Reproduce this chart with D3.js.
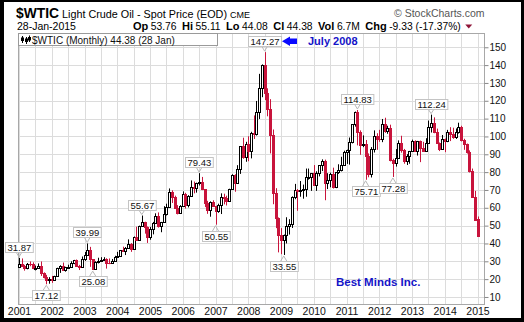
<!DOCTYPE html>
<html><head><meta charset="utf-8">
<script src="https://cdn.jsdelivr.net/npm/d3@7"></script>
<style>
html,body{margin:0;padding:0;background:#000;}
svg{display:block;}
text{font-family:"Liberation Sans",Arial,sans-serif;}
</style></head><body>
<svg id="chart" width="524" height="322"></svg>
<script>
// $WTIC monthly candles, Jan 2001 .. Jan 2015
const firstMonth = new Date(2001, 0, 1);

const opens = [
  26.80, 28.66, 27.39, 26.29, 28.46, 28.37, 26.25, 26.35, 27.20, 23.43, 21.18, 19.44,
  19.84, 19.48, 21.74, 26.31, 27.29, 25.31, 26.86, 27.02, 28.98, 30.45, 27.22, 26.89,
  31.20, 33.51, 36.60, 31.04, 25.80, 29.56, 30.19, 30.54, 31.57, 29.20, 29.11, 30.41,
  32.52, 33.05, 36.16, 35.76, 37.38, 39.88, 37.05, 43.80, 42.12, 49.64, 51.76, 49.13,
  43.45, 48.20, 51.75, 55.40, 49.72, 51.97, 56.50, 60.57, 68.94, 66.24, 59.76, 57.32,
  61.04, 67.92, 61.41, 66.63, 71.88, 71.29, 73.93, 74.40, 70.26, 62.91, 58.73, 63.13,
  61.05, 58.14, 61.79, 65.87, 65.71, 64.01, 70.68, 78.21, 74.04, 81.66, 94.53, 88.71,
  95.98, 91.75, 101.84, 101.58, 113.46, 127.35, 140.00, 124.08, 115.46, 100.64, 68.10, 54.43,
  44.60, 41.68, 44.76, 49.66, 51.12, 66.31, 69.89, 69.45, 69.96, 70.61, 77.00, 77.28,
  79.36, 72.89, 79.66, 83.76, 86.15, 73.97, 75.63, 78.95, 71.92, 79.97, 81.43, 84.11,
  91.38, 92.19, 96.97, 106.72, 113.93, 102.70, 95.42, 95.70, 88.81, 79.20, 93.19, 100.36,
  98.83, 98.48, 107.07, 103.02, 104.87, 86.53, 84.96, 88.06, 96.47, 92.19, 86.24, 88.91,
  91.82, 97.49, 92.05, 97.23, 93.46, 91.97, 96.56, 105.03, 107.65, 102.33, 96.38, 92.72,
  98.42, 97.49, 102.59, 101.58, 99.74, 102.71, 105.37, 98.17, 95.96, 91.16, 80.54, 66.15,
  53.76
];
const highs = [
  31.87, 31.60, 28.00, 29.05, 29.90, 29.40, 27.60, 28.80, 29.90, 23.80, 22.40, 21.10,
  21.80, 21.90, 26.40, 27.80, 29.30, 26.90, 28.10, 30.00, 30.80, 31.00, 28.00, 32.70,
  35.20, 39.99, 38.10, 31.20, 30.00, 32.00, 32.30, 32.30, 31.70, 31.60, 31.30, 33.10,
  35.30, 36.30, 38.20, 38.00, 42.30, 40.20, 43.90, 49.40, 50.00, 55.67, 52.20, 49.50,
  49.30, 52.10, 56.90, 57.40, 52.10, 60.90, 62.30, 70.85, 69.80, 66.80, 61.50, 61.50,
  69.20, 68.40, 67.10, 75.35, 74.70, 74.10, 79.43, 77.30, 70.40, 63.90, 63.60, 64.20,
  61.10, 62.30, 68.10, 67.90, 66.80, 70.70, 78.80, 78.80, 83.90, 94.60, 99.30, 97.00,
  100.10, 102.60, 111.80, 119.90, 135.10, 140.40, 147.27, 127.00, 120.90, 103.90, 71.00, 54.60,
  48.60, 45.00, 54.70, 53.60, 66.40, 73.40, 70.50, 75.00, 73.00, 82.00, 82.00, 79.50,
  83.95, 80.50, 83.85, 87.15, 87.00, 79.40, 79.70, 82.50, 80.00, 84.40, 88.60, 92.00,
  92.60, 99.40, 106.90, 113.95, 114.83, 103.40, 100.60, 98.00, 90.50, 94.00, 103.40, 101.80,
  103.70, 109.80, 110.50, 106.00, 106.60, 87.50, 92.90, 97.80, 100.40, 93.00, 90.10, 91.90,
  98.20, 97.80, 97.50, 97.70, 97.00, 99.00, 108.90, 112.24, 110.70, 104.40, 96.60, 100.80,
  98.80, 103.70, 105.20, 104.90, 104.50, 107.70, 106.00, 98.70, 96.00, 92.20, 82.00, 69.50,
  55.11
];
const lows = [
  26.60, 26.90, 24.75, 25.50, 27.20, 25.60, 24.90, 25.90, 21.80, 20.40, 17.12, 17.45,
  17.90, 19.30, 21.60, 23.50, 24.90, 24.20, 25.80, 26.50, 28.40, 26.80, 25.10, 26.50,
  30.20, 33.20, 26.90, 25.08, 25.60, 28.80, 29.80, 30.40, 25.90, 28.40, 28.60, 29.90,
  32.20, 32.40, 35.30, 33.50, 37.10, 35.30, 37.00, 41.90, 41.60, 49.30, 45.50, 40.30,
  42.10, 45.10, 51.20, 48.90, 46.30, 51.80, 55.70, 60.00, 62.70, 59.60, 56.30, 56.80,
  61.00, 59.60, 60.20, 66.50, 68.10, 68.50, 72.50, 69.90, 60.40, 56.60, 55.00, 60.80,
  50.55, 57.20, 56.50, 61.90, 61.30, 64.00, 70.20, 69.00, 73.80, 79.00, 87.50, 85.80,
  86.10, 87.70, 98.60, 100.50, 109.80, 122.00, 120.40, 111.30, 90.50, 62.00, 48.60, 35.00,
  33.98, 33.55, 40.00, 45.00, 48.70, 64.80, 58.30, 66.20, 65.10, 66.20, 75.80, 69.50,
  72.40, 69.50, 77.60, 80.60, 64.24, 70.50, 71.50, 70.80, 71.00, 79.00, 80.40, 83.90,
  84.60, 84.20, 96.10, 105.50, 95.00, 89.70, 94.00, 75.71, 77.10, 77.00, 91.00, 92.50,
  97.00, 96.80, 102.00, 101.50, 86.00, 77.28, 83.10, 87.70, 90.90, 84.70, 84.00, 84.70,
  91.80, 92.00, 89.30, 85.60, 91.30, 91.50, 96.00, 102.20, 101.80, 95.90, 91.80, 92.60,
  91.20, 96.80, 97.40, 98.70, 98.60, 101.60, 97.20, 92.50, 90.40, 79.80, 65.70, 52.70,
  44.08
];
const closes = [
  28.66, 27.39, 26.29, 28.46, 28.37, 26.25, 26.35, 27.20, 23.43, 21.18, 19.44, 19.84,
  19.48, 21.74, 26.31, 27.29, 25.31, 26.86, 27.02, 28.98, 30.45, 27.22, 26.89, 31.20,
  33.51, 36.60, 31.04, 25.80, 29.56, 30.19, 30.54, 31.57, 29.20, 29.11, 30.41, 32.52,
  33.05, 36.16, 35.76, 37.38, 39.88, 37.05, 43.80, 42.12, 49.64, 51.76, 49.13, 43.45,
  48.20, 51.75, 55.40, 49.72, 51.97, 56.50, 60.57, 68.94, 66.24, 59.76, 57.32, 61.04,
  67.92, 61.41, 66.63, 71.88, 71.29, 73.93, 74.40, 70.26, 62.91, 58.73, 63.13, 61.05,
  58.14, 61.79, 65.87, 65.71, 64.01, 70.68, 78.21, 74.04, 81.66, 94.53, 88.71, 95.98,
  91.75, 101.84, 101.58, 113.46, 127.35, 140.00, 124.08, 115.46, 100.64, 68.10, 54.43, 44.60,
  41.68, 44.76, 49.66, 51.12, 66.31, 69.89, 69.45, 69.96, 70.61, 77.00, 77.28, 79.36,
  72.89, 79.66, 83.76, 86.15, 73.97, 75.63, 78.95, 71.92, 79.97, 81.43, 84.11, 91.38,
  92.19, 96.97, 106.72, 113.93, 102.70, 95.42, 95.70, 88.81, 79.20, 93.19, 100.36, 98.83,
  98.48, 107.07, 103.02, 104.87, 86.53, 84.96, 88.06, 96.47, 92.19, 86.24, 88.91, 91.82,
  97.49, 92.05, 97.23, 93.46, 91.97, 96.56, 105.03, 107.65, 102.33, 96.38, 92.72, 98.42,
  97.49, 102.59, 101.58, 99.74, 102.71, 105.37, 98.17, 95.96, 91.16, 80.54, 66.15, 53.27,
  44.38
];

const yearTicks = [2001, 2002, 2003, 2004, 2005, 2006, 2007, 2008, 2009, 2010, 2011, 2012, 2013, 2014, 2015];
const priceTicks = [10, 20, 30, 40, 50, 60, 70, 80, 90, 100, 110, 120, 130, 140, 150];

// swing highs / lows that get a value tag
const noteIndex = [0, 10, 25, 27, 45, 66, 72, 90, 97, 124, 127, 137, 151];
const noteKind = ["high", "low", "high", "low", "high", "high", "low", "high", "low", "high", "low", "low", "high"];

// quote line under the title
const statLabels = ["Op", "Hi", "Lo", "Cl", "Vol", "Chg"];
const statValues = ["53.76", "55.11", "44.08", "44.38", "6.7M", "-9.33 (-17.37%)"];

const RED = "#c8143c";
const svg = d3.select("#chart");

// black frame
svg.append("rect").attr("width", 524).attr("height", 322).attr("fill", "#000");
svg.append("rect").attr("x", 4).attr("y", 2).attr("width", 517).attr("height", 316).attr("fill", "#fff");

const plot = {left: 18, right: 484, top: 33, bottom: 304};
const months = d3.range(closes.length).map(i => d3.timeMonth.offset(firstMonth, i));
const x = d3.scaleLinear().domain([0, months.length - 1]).range([19, 477.5]);
const y = d3.scaleLinear().domain([5.5, 158]).range([305, 33]);
const px = v => Math.round(v) + 0.5;

// grid
const grid = svg.append("g");
grid.selectAll("line.h").data(priceTicks).join("line").attr("class", "h")
  .attr("x1", plot.left).attr("x2", plot.right)
  .attr("y1", d => px(y(d))).attr("y2", d => px(y(d)))
  .attr("stroke", "#dcdcdc");
grid.selectAll("line.v").data(d3.range(0, months.length, 6)).join("line").attr("class", "v")
  .attr("x1", d => px(x(d))).attr("x2", d => px(x(d)))
  .attr("y1", plot.top).attr("y2", plot.bottom)
  .attr("stroke", "#dcdcdc");
svg.append("rect")
  .attr("x", plot.left + 0.5).attr("y", plot.top + 0.5)
  .attr("width", plot.right - plot.left).attr("height", plot.bottom - plot.top)
  .attr("fill", "none").attr("stroke", "#a8a8a8");

// axes
const yAxis = svg.append("g").attr("transform", `translate(${plot.right + 0.5},0)`)
  .call(d3.axisRight(y).tickValues(priceTicks).tickSize(4).tickPadding(1).tickFormat(d3.format("d")));
yAxis.select(".domain").remove();
yAxis.selectAll(".tick line").attr("stroke", "#888");
yAxis.selectAll("text").attr("font-size", 10).attr("fill", "#111")
  .attr("font-family", "Liberation Sans, Arial, sans-serif");

const xAxis = svg.append("g").attr("transform", `translate(0,${plot.bottom + 1})`)
  .call(d3.axisBottom(x).tickValues(yearTicks.map(yr => (yr - 2001) * 12))
    .tickFormat((d, i) => yearTicks[i]).tickSize(0).tickPadding(3));
xAxis.select(".domain").remove();
xAxis.selectAll("text").attr("font-size", 10.5).attr("fill", "#111")
  .attr("font-family", "Liberation Sans, Arial, sans-serif");

// candles
const candles = svg.append("g").selectAll("g").data(months.map((m, i) => i)).join("g");
candles.append("line")
  .attr("x1", i => Math.round(x(i)) + 0.5).attr("x2", i => Math.round(x(i)) + 0.5)
  .attr("y1", i => y(highs[i])).attr("y2", i => y(lows[i]))
  .attr("stroke", i => closes[i] >= opens[i] ? "#000" : RED);
candles.append("rect")
  .each(function (i) {
    const up = closes[i] >= opens[i];
    const top = Math.round(y(Math.max(opens[i], closes[i])));
    const bot = Math.round(y(Math.min(opens[i], closes[i])));
    const cx = Math.round(x(i));
    const r = d3.select(this);
    if (up) {
      r.attr("x", cx - 0.5).attr("y", top + 0.5).attr("width", 2).attr("height", Math.max(1, bot - top))
        .attr("fill", "#fff").attr("stroke", "#000");
    } else {
      r.attr("x", cx - 1).attr("y", top).attr("width", 3).attr("height", Math.max(1, bot - top + 1))
        .attr("fill", RED);
    }
  });

// value tags on swing points
const tags = svg.append("g");
noteIndex.forEach((i, k) => {
  const isHigh = noteKind[k] === "high";
  const v = isHigh ? highs[i] : lows[i];
  const cx = x(i), cy = y(v);
  const g = tags.append("g");
  const t = g.append("text").text(v.toFixed(2)).attr("font-size", 9.5).attr("fill", "#111")
    .attr("text-anchor", "middle");
  const w = t.node().getComputedTextLength() + 4, h = 10;
  const bx = Math.round(cx - w / 2), by = Math.round(isHigh ? cy - 6 - h : cy + 6);
  const edge = isHigh ? by + h : by;
  g.insert("path", "text")
    .attr("d", `M${cx - 3},${edge} L${cx},${cy + (isHigh ? -1 : 1)} L${cx + 3},${edge}`)
    .attr("fill", "none").attr("stroke", "#b8b8b8");
  g.insert("rect", "text").attr("x", bx + 0.5).attr("y", by + 0.5).attr("width", w).attr("height", h)
    .attr("fill", "#fff").attr("stroke", "#c4c4c4");
  t.attr("x", bx + w / 2 + 0.5).attr("y", by + 8.5);
});

// legend strip
const leg = svg.append("g");
leg.append("rect").attr("x", 18.5).attr("y", 33.5).attr("width", 199).attr("height", 12)
  .attr("fill", "#fff").attr("stroke", "#9a9a9a");
leg.append("path").attr("d", "M22.5,36 V43 M26.5,37 V44 M29.5,35.5 V42").attr("stroke", "#000");
leg.append("rect").attr("x", 21).attr("y", 37.5).attr("width", 3).attr("height", 3.5).attr("fill", "#000");
leg.append("rect").attr("x", 25).attr("y", 38.5).attr("width", 3).attr("height", 3.5).attr("fill", "#000");
leg.append("rect").attr("x", 28).attr("y", 37).attr("width", 3).attr("height", 3.5).attr("fill", "#000");
leg.append("text").attr("x", 32).attr("y", 43.5)
  .attr("font-family", "DejaVu Sans Mono, monospace").attr("font-size", 10).attr("fill", "#111")
  .text("$WTIC (Monthly) 44.38 (28 Jan)");

// header
const head = svg.append("g").attr("fill", "#000");
head.append("text").attr("x", 16).attr("y", 17.5).attr("font-size", 14).attr("font-weight", "bold")
  .attr("textLength", 43).attr("lengthAdjust", "spacingAndGlyphs").text("$WTIC");
head.append("text").attr("x", 62).attr("y", 17.5).attr("font-size", 11)
  .attr("textLength", 165).attr("lengthAdjust", "spacingAndGlyphs").text("Light Crude Oil - Spot Price (EOD)");
head.append("text").attr("x", 230).attr("y", 17.5).attr("font-size", 9).text("CME");
head.append("text").attr("x", 394).attr("y", 16.5).attr("font-size", 10.5).attr("fill", "#555").text("\u00a9 StockCharts.com");
head.append("text").attr("x", 17).attr("y", 29.5).attr("font-size", 10.5).text("28-Jan-2015");

// quote line: bold label then value, flowing left to right
let cursor = 133;
statLabels.forEach((s, k) => {
  const lab = head.append("text").attr("x", cursor).attr("y", 29.5).attr("font-size", 11).attr("font-weight", "bold").text(s);
  cursor += lab.node().getComputedTextLength() + 2.5;
  const val = head.append("text").attr("x", cursor).attr("y", 29.5).attr("font-size", 10.3).text(statValues[k]);
  cursor += val.node().getComputedTextLength() + 5.5;
});
head.append("path").attr("d", `M${cursor - 1},24.5 L${cursor + 6},24.5 L${cursor + 2.5},28.5 Z`).attr("fill", "#8e1538");

// notes
svg.append("path")
  .attr("d", "M282,41.3 L290,36.5 L290,38.6 L297,38.6 L297,44 L290,44 L290,46.1 Z")
  .attr("fill", "#0a0aff");
svg.append("text").attr("x", 308).attr("y", 45).attr("font-size", 11).attr("font-weight", "bold")
  .attr("fill", "#1414c8").text("July 2008");
svg.append("text").attr("x", 336).attr("y", 286).attr("font-size", 11.5).attr("font-weight", "bold")
  .attr("fill", "#1414c8").text("Best Minds Inc.");
</script>
</body></html>
